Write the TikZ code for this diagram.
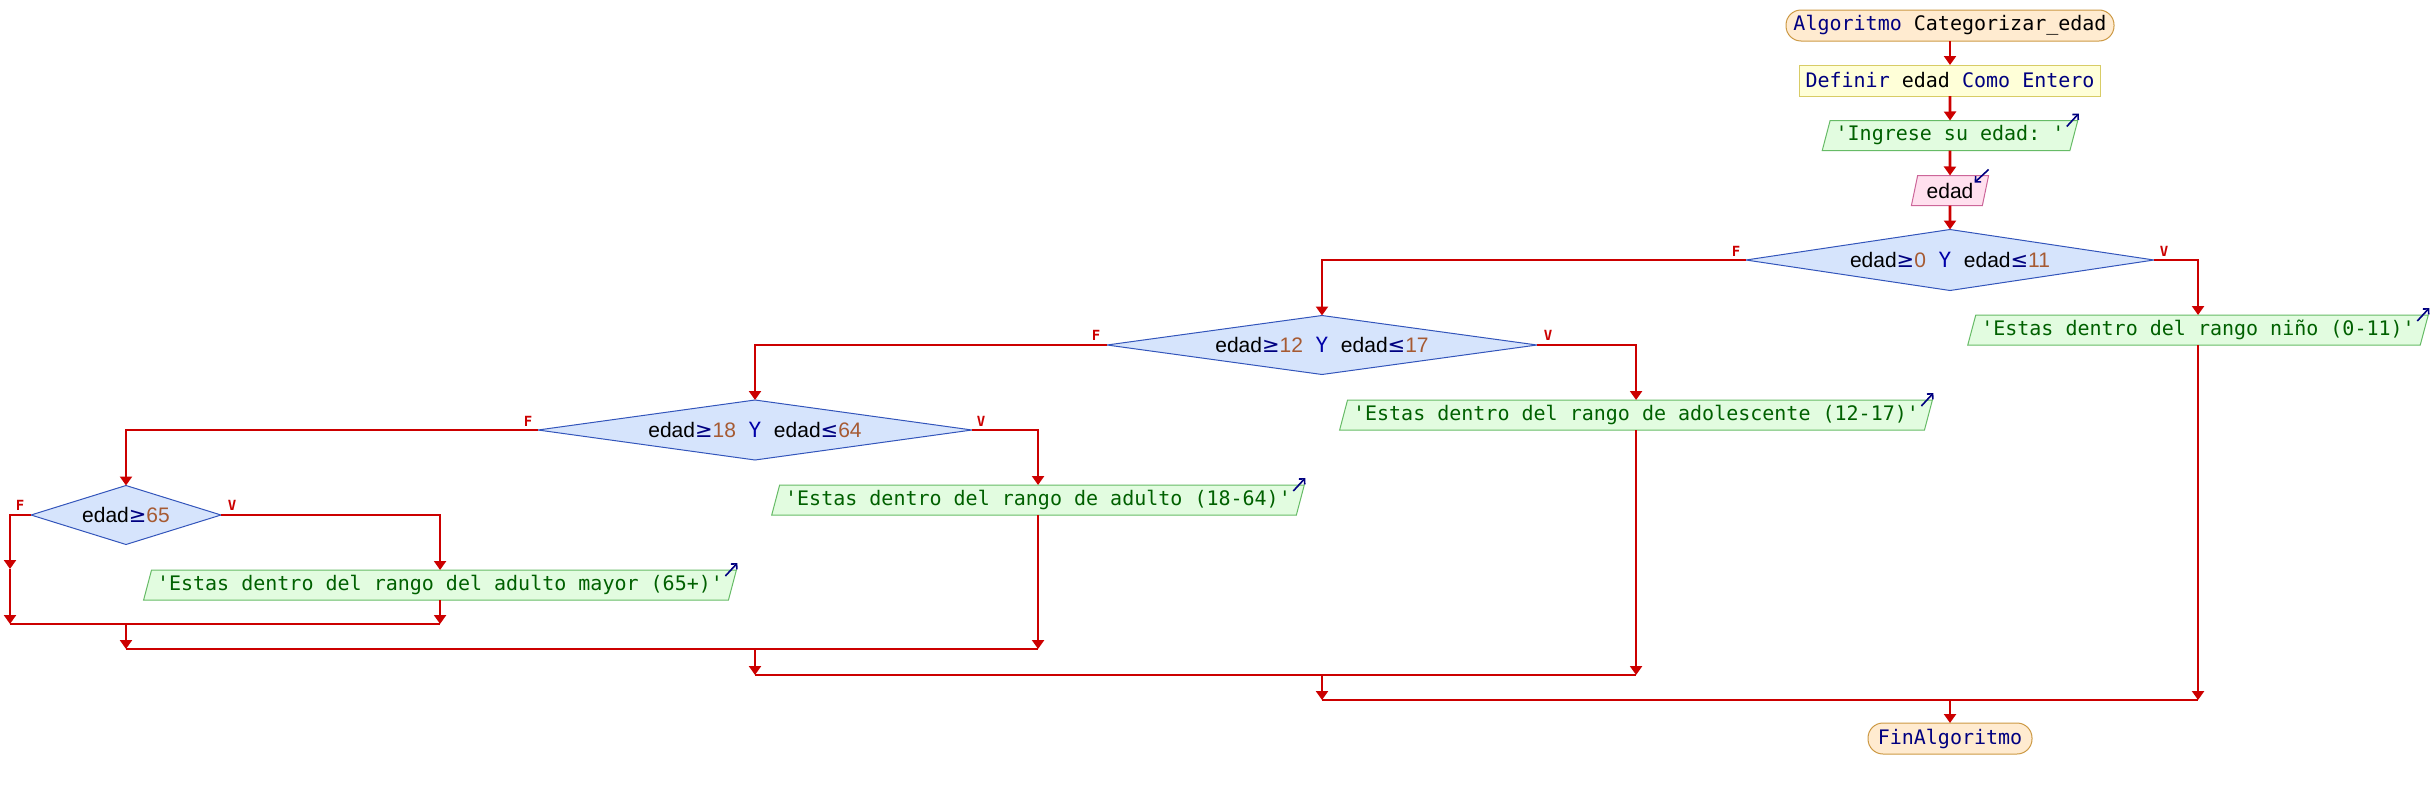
\documentclass[tikz,border=0pt]{standalone}
\usepackage{fontspec}
\setmonofont{DejaVu Sans Mono}
\newfontfamily\sansf{Liberation Sans}
\newfontfamily\symf{DejaVu Sans}
\usetikzlibrary{shapes.geometric,arrows.meta}
\definecolor{flowred}{HTML}{CC0000}
\definecolor{termfill}{HTML}{FFEBD0}
\definecolor{termborder}{HTML}{CC9944}
\definecolor{deffill}{HTML}{FFFFD8}
\definecolor{defborder}{HTML}{D8CC66}
\definecolor{outfill}{HTML}{E2FCE0}
\definecolor{outborder}{HTML}{66BB66}
\definecolor{infill}{HTML}{FFE0EE}
\definecolor{inborder}{HTML}{CC6699}
\definecolor{condfill}{HTML}{D6E4FC}
\definecolor{condborder}{HTML}{3355BB}
\definecolor{kwc}{HTML}{000080}
\definecolor{strc}{HTML}{006000}
\definecolor{numc}{HTML}{A65A32}
\definecolor{ycol}{HTML}{0000A8}
\definecolor{iconc}{HTML}{000080}
\newcommand{\kwd}[1]{\textcolor{kwc}{#1}}
\newcommand{\ed}{{\sansf\color{black}edad}}
\newcommand{\geop}{{\symf\color{kwc}≥}}
\newcommand{\leop}{{\symf\color{kwc}≤}}
\newcommand{\nm}[1]{{\sansf\color{numc}#1}}
\newcommand{\yy}{{\ttfamily\color{ycol}~Y~}}
\tikzset{
  flow/.style={draw=flowred, line width=2.8pt, -{Triangle[width=12pt,length=9pt]}},
  flowline/.style={draw=flowred, line width=2.8pt},
  monof/.style={font=\ttfamily\fontsize{20}{24}\selectfont},
  term/.style={monof, draw=termborder, fill=termfill, rounded corners=15pt,
    minimum height=31pt, inner sep=0pt, outer sep=0pt, line width=1pt},
  defbox/.style={monof, draw=defborder, fill=deffill, minimum height=31pt,
    minimum width=301pt, inner sep=0pt, outer sep=0pt, line width=1pt},
  para/.style={trapezium, trapezium left angle=68, trapezium right angle=112,
    trapezium stretches=true,
    minimum height=30pt, inner ysep=0pt, outer sep=0pt, line width=1pt},
  outbox/.style={para, monof, draw=outborder, fill=outfill, text=strc, inner xsep=5.5pt},
  inbox/.style={para, font=\fontsize{21}{24}\selectfont, draw=inborder, fill=infill, inner xsep=9pt},
  cond/.style={diamond, draw=condborder, fill=condfill, line width=1pt, inner sep=0pt,
    outer sep=0pt, shape aspect=7, font=\fontsize{21}{24}\selectfont},
  fv/.style={text=flowred, font=\ttfamily\bfseries\fontsize{14}{16}\selectfont, inner sep=0pt},
  outicon/.style={draw=iconc, line width=1.6pt, -{Straight Barb[length=4pt,width=8pt]}},
}
\begin{document}
\begin{tikzpicture}[x=1pt,y=-1pt]
\useasboundingbox (0,0) rectangle (2436,790);
% nodes
\node[term, minimum width=328pt] (start) at (1950,25.5) {\kwd{Algoritmo} Categorizar\_edad};
\node[defbox] (defn) at (1950,80.5) {\kwd{Definir} edad \kwd{Como Entero}};
\node[outbox] (ingrese) at (1950,135.5) {'Ingrese su edad: '};
\node[inbox] (edadin) at (1950,190.5) {\sansf edad};
\node[cond, minimum width=408pt, minimum height=61pt] (d1) at (1950,260) {\ed\geop\nm{0}\yy\ed\leop\nm{11}};
\node[outbox] (nino) at (2198,330) {'Estas dentro del rango niño (0-11)'};
\node[cond, minimum width=430pt, minimum height=59pt] (d2) at (1322,345) {\ed\geop\nm{12}\yy\ed\leop\nm{17}};
\node[outbox] (adol) at (1636,415) {'Estas dentro del rango de adolescente (12-17)'};
\node[cond, minimum width=434pt, minimum height=60pt] (d3) at (755,430) {\ed\geop\nm{18}\yy\ed\leop\nm{64}};
\node[outbox] (adulto) at (1038,500) {'Estas dentro del rango de adulto (18-64)'};
\node[cond, minimum width=190pt, minimum height=59pt, shape aspect=3.2] (d4) at (126,515) {\ed\geop\nm{65}};
\node[outbox] (mayor) at (440,585) {'Estas dentro del rango del adulto mayor (65+)'};
\node[term, minimum width=164pt] (fin) at (1950,738.5) {\kwd{FinAlgoritmo}};
% F / V labels
\node[fv] (f1) at (1736,251) {F};
\node[fv] (v1) at (2164,251) {V};
\node[fv] (f2) at (1096,335) {F};
\node[fv] (v2) at (1548,335) {V};
\node[fv] (f3) at (528,421) {F};
\node[fv] (v3) at (981,421) {V};
\node[fv] (f4) at (20,505) {F};
\node[fv] (v4) at (232,505) {V};
% io icons
\foreach \n in {ingrese,nino,adol,adulto,mayor}{
  \draw[outicon] ([xshift=-11pt,yshift=-6pt]\n.top right corner) -- ([xshift=1pt,yshift=7pt]\n.top right corner);
}
\draw[outicon] ([xshift=0pt,yshift=6pt]edadin.top right corner) -- ([xshift=-14pt,yshift=-7pt]edadin.top right corner);
% main flow
\draw[flow] (start.south) -- (defn.north);
\draw[flow] (defn.south) -- (ingrese.north);
\draw[flow] (ingrese.south) -- (edadin.north);
\draw[flow] (edadin.south) -- (d1.north);
\draw[flow] (d1.west) -| (d2.north);
\draw[flow] (d1.east) -| (nino.north);
\draw[flow] (d2.west) -| (d3.north);
\draw[flow] (d2.east) -| (adol.north);
\draw[flow] (d3.west) -| (d4.north);
\draw[flow] (d3.east) -| (adulto.north);
\draw[flow] (d4.east) -| (mayor.north);
% empty F branch of d4
\coordinate (e4) at (10,569);
\coordinate (j4) at (10,624);
\draw[flow] (d4.west) -| (e4);
\draw[flow] (e4) -- (j4);
% joins
\draw[flow] (mayor.south) -- (mayor.south |- j4);
\draw[flowline] (j4) -- (mayor.south |- j4);
\coordinate (j3) at (126,649);
\draw[flow] (d4.south |- j4) -- (j3);
\draw[flow] (adulto.south) -- (adulto.south |- j3);
\draw[flowline] (j3) -- (adulto.south |- j3);
\coordinate (j2) at (755,675);
\draw[flow] (d3.south |- j3) -- (j2);
\draw[flow] (adol.south) -- (adol.south |- j2);
\draw[flowline] (j2) -- (adol.south |- j2);
\coordinate (j1) at (1322,700);
\draw[flow] (d2.south |- j2) -- (j1);
\draw[flow] (nino.south) -- (nino.south |- j1);
\draw[flowline] (j1) -- (nino.south |- j1);
\draw[flow] (d1.south |- j1) -- (fin.north);
\end{tikzpicture}
\end{document}
